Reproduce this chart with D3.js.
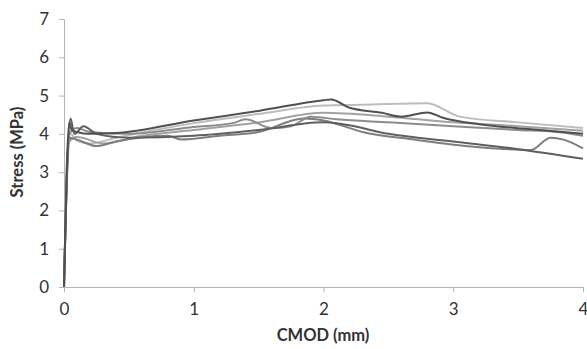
<!DOCTYPE html>
<html>
<head>
<meta charset="utf-8">
<script src="https://cdn.jsdelivr.net/npm/d3@7"></script>
<style>
  body { margin: 0; background: #fff; }
  svg { display: block; font-family: Lato, "Open Sans", sans-serif; }
</style>
</head>
<body>
<div id="chart"></div>
<script>
// Stress vs CMOD curves
const xTicks = [0, 1, 2, 3, 4];
const yTicks = [0, 1, 2, 3, 4, 5, 6, 7];

const curveTop = [[0,0],[0.02,3.0],[0.04,4.3],[0.06,4.1],[0.1,4.05],[0.2,4.0],[0.4,4.02],[1.0,4.35],[1.5,4.6],[2.0,4.88],[2.06,4.9],[2.2,4.68],[2.45,4.55],[2.6,4.45],[2.8,4.56],[2.92,4.42],[3.2,4.25],[3.6,4.12],[4.0,4.0]];
const curveLight = [[0,0],[0.03,3.5],[0.05,4.0],[0.1,3.82],[0.2,3.75],[0.4,3.9],[1.0,4.28],[1.5,4.52],[2.0,4.74],[2.3,4.76],[2.8,4.8],[3.05,4.45],[3.5,4.3],[4.0,4.15]];
const curveBumpy = [[0,0],[0.04,4.0],[0.1,4.15],[0.2,4.05],[0.5,4.0],[1.0,4.18],[1.3,4.28],[1.4,4.38],[1.6,4.15],[1.75,4.2],[1.9,4.45],[2.1,4.38],[2.5,4.3],[3.0,4.2],[3.5,4.1],[3.8,4.05],[4.0,3.95]];
const curveLowDark = [[0,0],[0.03,3.6],[0.05,4.4],[0.08,4.0],[0.15,4.2],[0.25,4.0],[0.5,3.9],[1.0,3.95],[1.5,4.1],[2.0,4.3],[2.15,4.25],[2.5,4.0],[3.0,3.8],[3.5,3.6],[4.0,3.35]];
const curveDip = [[0,0],[0.04,3.9],[0.1,3.85],[0.25,3.68],[0.4,3.8],[0.8,3.95],[0.9,3.85],[1.2,3.95],[1.5,4.05],[1.85,4.4],[2.0,4.35],[2.3,4.05],[2.7,3.85],[3.2,3.65],[3.6,3.58],[3.75,3.9],[3.85,3.85],[4.0,3.62]];
const curveMid = [[0,0],[0.04,3.8],[0.1,3.92],[0.3,3.75],[0.6,3.95],[1.0,4.1],[1.5,4.3],[2.0,4.55],[2.5,4.45],[3.0,4.3],[3.5,4.2],[4.0,4.08]];

const curves = [
  { pts: curveLight, color: '#bdbdbd' },
  { pts: curveMid, color: '#a2a2a2' },
  { pts: curveDip, color: '#7e7e7e' },
  { pts: curveBumpy, color: '#8c8c8c' },
  { pts: curveLowDark, color: '#5f5f5f' },
  { pts: curveTop, color: '#505050' }
];

const width = 587, height = 349;
const x = d3.scaleLinear().domain([0, 4]).range([64, 583]);
const y = d3.scaleLinear().domain([0, 7]).range([287, 19]);

const svg = d3.select('#chart').append('svg')
  .attr('width', width)
  .attr('height', height);

// Axes
const xAxis = svg.append('g')
  .attr('transform', `translate(0,${y(0)})`)
  .call(d3.axisBottom(x).tickValues(xTicks).tickSize(5).tickPadding(11).tickFormat(d3.format('d')));
const yAxis = svg.append('g')
  .attr('transform', `translate(${x(0)},0)`)
  .call(d3.axisLeft(y).tickValues(yTicks).tickSize(5).tickPadding(10).tickFormat(d3.format('d')));

[xAxis, yAxis].forEach(a => {
  a.select('.domain').attr('stroke', '#b4b4b4');
  a.selectAll('.tick line').attr('stroke', '#b4b4b4');
  a.selectAll('.tick text')
    .attr('fill', '#333')
    .attr('font-size', '17px')
    .attr('font-family', 'Lato, "Open Sans", sans-serif');
});

// Lines
const line = d3.line().x(d => x(d[0])).y(d => y(d[1])).curve(d3.curveMonotoneX);
svg.append('g')
  .selectAll('path')
  .data(curves)
  .join('path')
  .attr('d', d => line(d.pts))
  .attr('fill', 'none')
  .attr('stroke', d => d.color)
  .attr('stroke-width', 2)
  .attr('stroke-linejoin', 'round');

// Axis titles
svg.append('text')
  .attr('x', 323)
  .attr('y', 341)
  .attr('text-anchor', 'middle')
  .attr('font-size', '16.5px')
  .attr('font-weight', 'bold')
  .attr('fill', '#333')
  .text('CMOD (mm)');

svg.append('text')
  .attr('transform', 'translate(23,152) rotate(-90)')
  .attr('text-anchor', 'middle')
  .attr('font-size', '16.5px')
  .attr('font-weight', 'bold')
  .attr('fill', '#333')
  .text('Stress (MPa)');
</script>
</body>
</html>
